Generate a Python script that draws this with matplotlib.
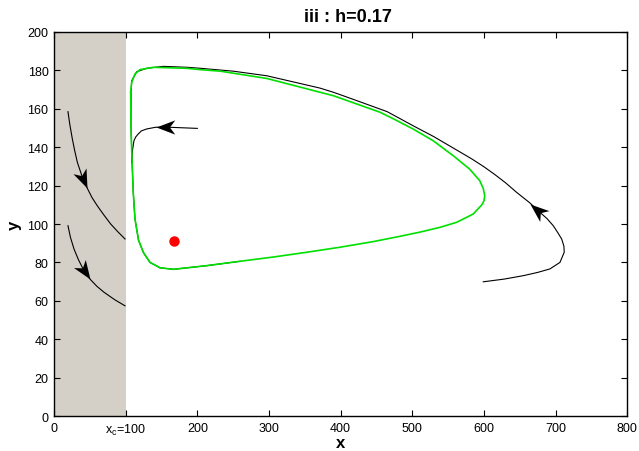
import numpy as np
import matplotlib
matplotlib.use('Agg')
import matplotlib.pyplot as plt
from matplotlib.patches import Rectangle
from matplotlib.path import Path
from matplotlib.markers import MarkerStyle
from matplotlib.transforms import Affine2D

plt.rcParams['font.family'] = ['Liberation Sans', 'DejaVu Sans']

# limit cycle (green)
cycle_x = [107, 108.4, 113, 120, 138.6, 185, 204, 232, 297, 390, 455, 474, 501, 529, 557,
           580, 594, 599, 601, 600, 597, 585, 562, 539, 511, 483, 445, 399, 353, 306,
           260, 213, 166.5, 148, 134, 125, 118, 113, 110.6, 108.8, 107.4, 107]
cycle_y = [168.6, 173.8, 178.1, 180.4, 181.6, 181.1, 180.4, 179.6, 175.8, 166.8, 158.2, 154.7, 149.5, 143.4, 135.6,
           128.6, 122.6, 118.5, 114.7, 112, 110, 105.2, 100.9, 98.3, 95.8, 93.6, 90.8, 87.9, 85.3, 82.8,
           80.6, 78.3, 76.4, 77.2, 80, 85, 91.5, 102.6, 116.5, 133.9, 151.2, 168.6]

# outer trajectory starting at (600, 70)
outer_x = [599, 628, 655, 675, 692, 706, 712, 711.5, 708.4, 703, 696.7, 688, 678, 664, 645.5,
           630, 615, 600, 583, 557, 530, 501, 465, 417, 390, 371, 297, 250, 204, 186.7,
           152.5, 129.3, 115.4, 108.4, 107.5, 107.4, 108.8, 110.6, 113, 118, 125, 134, 148, 166.5,
           213, 260]
outer_y = [69.9, 71.3, 73.1, 74.8, 76.6, 80, 85.3, 88.5, 92.2, 95.5, 99.1, 102.8, 106.1, 111, 116.5,
           121.5, 125.8, 129.8, 133.9, 139.6, 145.5, 151.2, 158.5, 165, 168.6, 170.8, 177.2, 179.6, 181.1, 181.6,
           182.1, 181.1, 179.3, 174.6, 168.6, 151.2, 133.9, 116.5, 102.6, 91.5, 85, 80, 77.2, 76.4,
           78.3, 80.6]

# inner trajectory starting at (200, 150)
inner_x = [200, 180, 160, 142, 129.3, 122, 117.6, 114, 111.6, 109.8, 108.8, 108.5]
inner_y = [149.8, 150.1, 150.4, 150.4, 149.5, 148.5, 146.9, 145.3, 143.4, 139.1, 135.6, 132]

# trajectories in the shaded region
left1_x = [19.5, 22, 25.6, 29, 32.6, 39, 46.5, 53, 60.4, 70, 79.1, 89, 99.1]
left1_y = [158.5, 152, 144.3, 138, 132.1, 125, 118.6, 113.8, 109.5, 104.5, 100, 96, 92.2]
left2_x = [19.5, 23, 27.9, 34, 41, 50, 60, 70, 85, 99.1]
left2_y = [99.1, 93, 87, 81.5, 76.3, 71.4, 67.5, 64.4, 60.5, 57.4]

# arrow heads: (point behind, tip)
arrows = [((39, 125), (46.5, 118.6)),
          ((41, 76.3), (50, 71.4)),
          ((160, 150.4), (142, 150.4)),
          ((678, 106.1), (664, 110.5))]

equilibrium = (167.5, 91.1)
xc = 100

fig = plt.figure(figsize=(6.39, 4.52), dpi=100)
ax = fig.add_axes([0.0845, 0.0774, 0.8972, 0.8496])
ax.set_xlim(0, 800)
ax.set_ylim(0, 200)

ax.add_patch(Rectangle((0, 0), xc, 200, facecolor='#d4d0c8', edgecolor='none', zorder=0))

for xs, ys in [(outer_x, outer_y), (inner_x, inner_y), (left1_x, left1_y), (left2_x, left2_y)]:
    ax.plot(xs, ys, color='black', lw=0.8, zorder=2)
ax.plot(cycle_x, cycle_y, color='#00e000', lw=1.2, zorder=3)

# notched arrowhead, tip at the origin
head = Path([(0, 0), (-1, 0.38), (-0.72, 0), (-1, -0.38), (0, 0)],
            [Path.MOVETO, Path.LINETO, Path.LINETO, Path.LINETO, Path.CLOSEPOLY])
for (x0, y0), (x1, y1) in arrows:
    p0 = ax.transData.transform((x0, y0))
    p1 = ax.transData.transform((x1, y1))
    ang = np.degrees(np.arctan2(p1[1] - p0[1], p1[0] - p0[0]))
    m = MarkerStyle(head, transform=Affine2D().rotate_deg(ang))
    ax.plot(x1, y1, marker=m, ms=27, color='black', mew=0, zorder=4)

ax.plot(*equilibrium, 'o', color='red', ms=6.5, mec='red', zorder=5)

ax.set_xticks(range(0, 801, 100))
ax.set_xticklabels(['0', r'x$_{\mathregular{c}}$=100', '200', '300', '400', '500', '600', '700', '800'])
ax.set_yticks(range(0, 201, 20))
ax.tick_params(direction='in', top=True, right=True, length=4, labelsize=9, width=0.8, pad=4)
for s in ax.spines.values():
    s.set_linewidth(1.0)

ax.set_title('iii : h=0.17', fontsize=13, fontweight='bold', pad=8, x=0.513)
ax.set_xlabel('x', fontsize=12, fontweight='bold', labelpad=-1)
ax.set_ylabel('y', fontsize=12, fontweight='bold', labelpad=4)

fig.savefig('out.png', dpi=100)
